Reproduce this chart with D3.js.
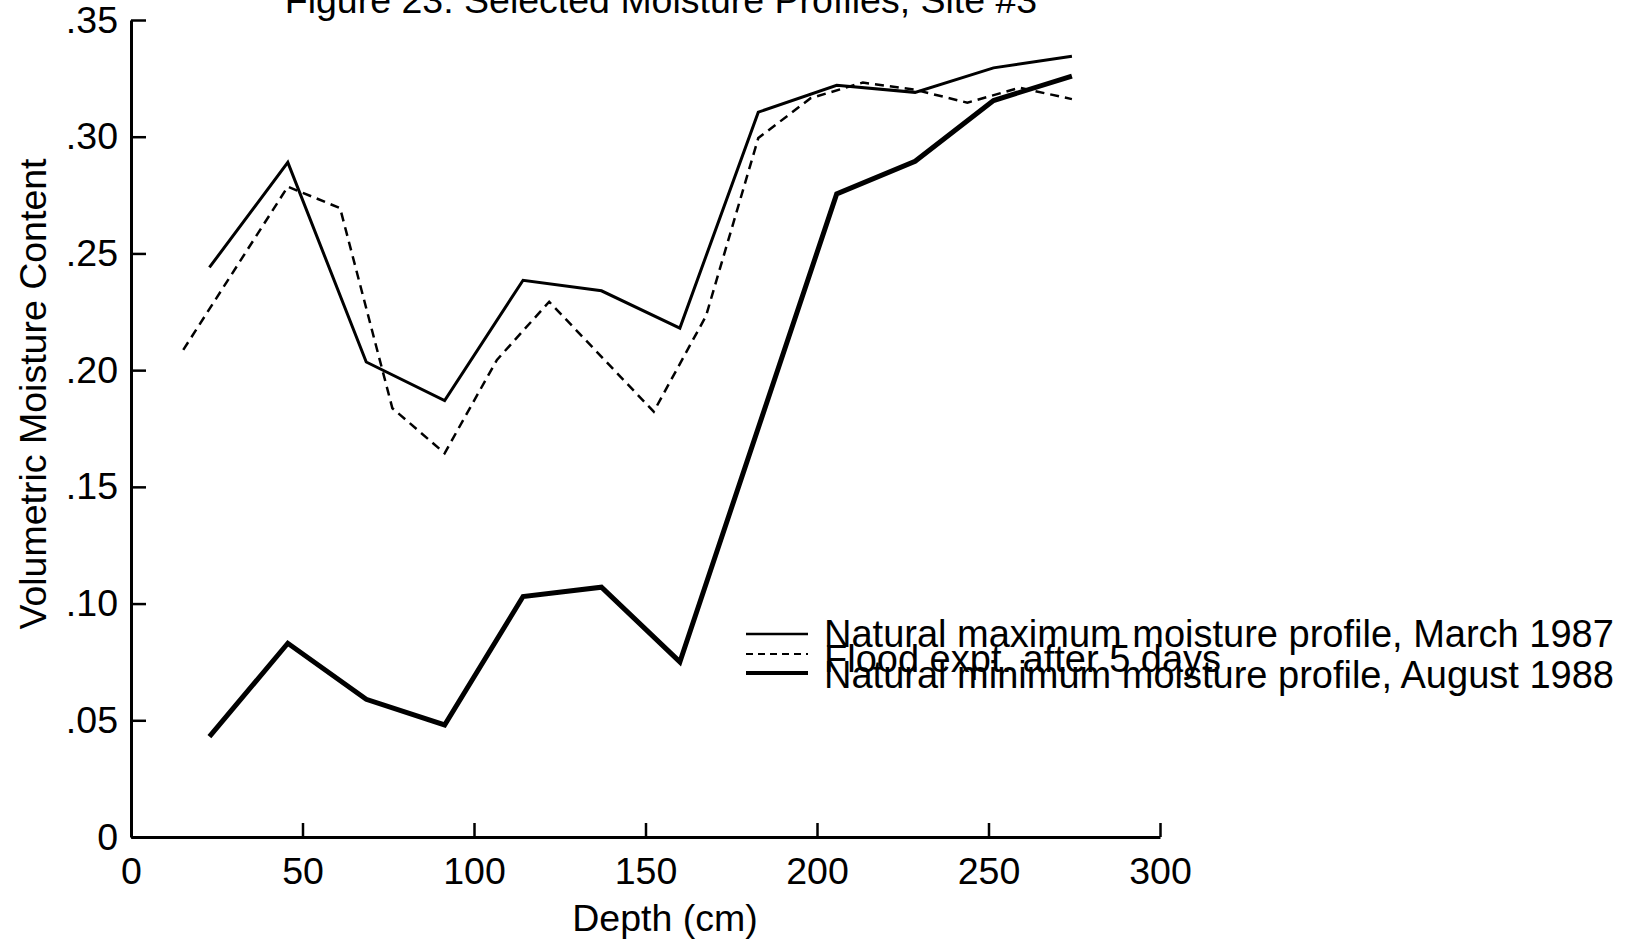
<!DOCTYPE html>
<html>
<head>
<meta charset="utf-8">
<script src="https://cdn.jsdelivr.net/npm/d3@7"></script>
<style>
  html, body { margin: 0; padding: 0; background: #fff; }
  svg { display: block; font-family: "Liberation Sans", Arial, Helvetica, sans-serif; }
</style>
</head>
<body>
<svg id="chart" width="1625" height="946"></svg>
<script>
// ---- data ----
const titleText = "Figure 23: Selected Moisture Profiles, Site #3";
const xTitle = "Depth (cm)";
const yTitle = "Volumetric Moisture Content";

const xTicks = [0, 50, 100, 150, 200, 250, 300];
const xTickLabels = ["0", "50", "100", "150", "200", "250", "300"];
const yTicks = [0, 0.05, 0.10, 0.15, 0.20, 0.25, 0.30, 0.35];
const yTickLabels = ["0", ".05", ".10", ".15", ".20", ".25", ".30", ".35"];

const seriesNames = [
  "Natural maximum moisture profile, March 1987",
  "Flood expt. after 5 days",
  "Natural minimum moisture profile, August 1988"
];

const depthMax = [22.86, 45.72, 68.58, 91.44, 114.3, 137.16, 160.02, 182.88, 205.74, 228.6, 251.46, 274.32];
const valuesMax = [0.244, 0.289, 0.2035, 0.187, 0.2385, 0.234, 0.218, 0.3105, 0.322, 0.319, 0.3295, 0.3345];

const depthFlood = [15.24, 45.72, 60.96, 76.2, 91.44, 106.68, 121.92, 152.4, 167.64, 182.88, 198.12, 213.36, 228.6, 243.84, 259.08, 274.32];
const valuesFlood = [0.2087, 0.2786, 0.2694, 0.1837, 0.1644, 0.2044, 0.2293, 0.1822, 0.2232, 0.2994, 0.3165, 0.3232, 0.3201, 0.3146, 0.3210, 0.3161];

const depthMin = [22.86, 45.72, 68.58, 91.44, 114.3, 137.16, 160.02, 205.74, 228.6, 251.46, 274.32];
const valuesMin = [0.043, 0.083, 0.059, 0.048, 0.103, 0.107, 0.075, 0.2755, 0.2895, 0.3155, 0.326];

// ---- layout ----
const svg = d3.select("#chart");
const FS = 37.5;

const x = d3.scaleLinear().domain([0, 300]).range([131, 1160]);
const y = d3.scaleLinear().domain([0, 0.35]).range([837, 20]);

svg.append("rect").attr("width", 1625).attr("height", 946).attr("fill", "#fff");

// axes
const xAxis = d3.axisBottom(x)
  .tickValues(xTicks)
  .tickFormat((d, i) => xTickLabels[i])
  .tickSizeInner(-14).tickSizeOuter(0).tickPadding(20);

const yAxis = d3.axisLeft(y)
  .tickValues(yTicks)
  .tickFormat((d, i) => yTickLabels[i])
  .tickSizeInner(-15).tickSizeOuter(0).tickPadding(13);

const gx = svg.append("g").attr("transform", `translate(0,${y(0)})`).call(xAxis);
const gy = svg.append("g").attr("transform", `translate(${x(0)},0)`).call(yAxis);

[gx, gy].forEach(g => {
  g.select(".domain").attr("stroke", "#000").attr("stroke-width", 3);
  g.selectAll(".tick line").attr("stroke", "#000").attr("stroke-width", 2.5);
  g.selectAll(".tick text").attr("fill", "#000").style("font-size", FS + "px")
    .style("font-family", '"Liberation Sans", Arial, sans-serif');
});

// titles
svg.append("text")
  .attr("x", 661).attr("y", 13)
  .attr("text-anchor", "middle")
  .style("font-size", FS + "px")
  .attr("fill", "#000")
  .text(titleText);

svg.append("text")
  .attr("x", 665).attr("y", 931)
  .attr("text-anchor", "middle")
  .style("font-size", FS + "px")
  .attr("fill", "#000")
  .text(xTitle);

svg.append("text")
  .attr("transform", "translate(46,394) rotate(-90)")
  .attr("text-anchor", "middle")
  .style("font-size", FS + "px")
  .attr("fill", "#000")
  .text(yTitle);

// lines
const lineGen = d3.line().x(d => x(d[0])).y(d => y(d[1]));
const styles = [
  { w: 3, dash: null },
  { w: 2.5, dash: "9,6" },
  { w: 5, dash: null }
];
const series = [
  d3.zip(depthMax, valuesMax),
  d3.zip(depthFlood, valuesFlood),
  d3.zip(depthMin, valuesMin)
];

series.forEach((s, i) => {
  svg.append("path")
    .datum(s)
    .attr("d", lineGen)
    .attr("fill", "none")
    .attr("stroke", "#000")
    .attr("stroke-width", styles[i].w)
    .attr("stroke-linejoin", "miter")
    .attr("stroke-dasharray", styles[i].dash);
});

// legend
const legendY = [634, 654, 673];
const legendTextDy = [13.4, 18, 15];
const legendStyles = [
  { w: 2.5, dash: null },
  { w: 2, dash: "7,5" },
  { w: 4, dash: null }
];
seriesNames.forEach((name, i) => {
  svg.append("line")
    .attr("x1", 746).attr("x2", 808)
    .attr("y1", legendY[i]).attr("y2", legendY[i])
    .attr("stroke", "#000")
    .attr("stroke-width", legendStyles[i].w)
    .attr("stroke-dasharray", legendStyles[i].dash);
  svg.append("text")
    .attr("x", 824).attr("y", legendY[i] + legendTextDy[i])
    .style("font-size", "38px")
    .attr("fill", "#000")
    .text(name);
});
</script>
</body>
</html>
